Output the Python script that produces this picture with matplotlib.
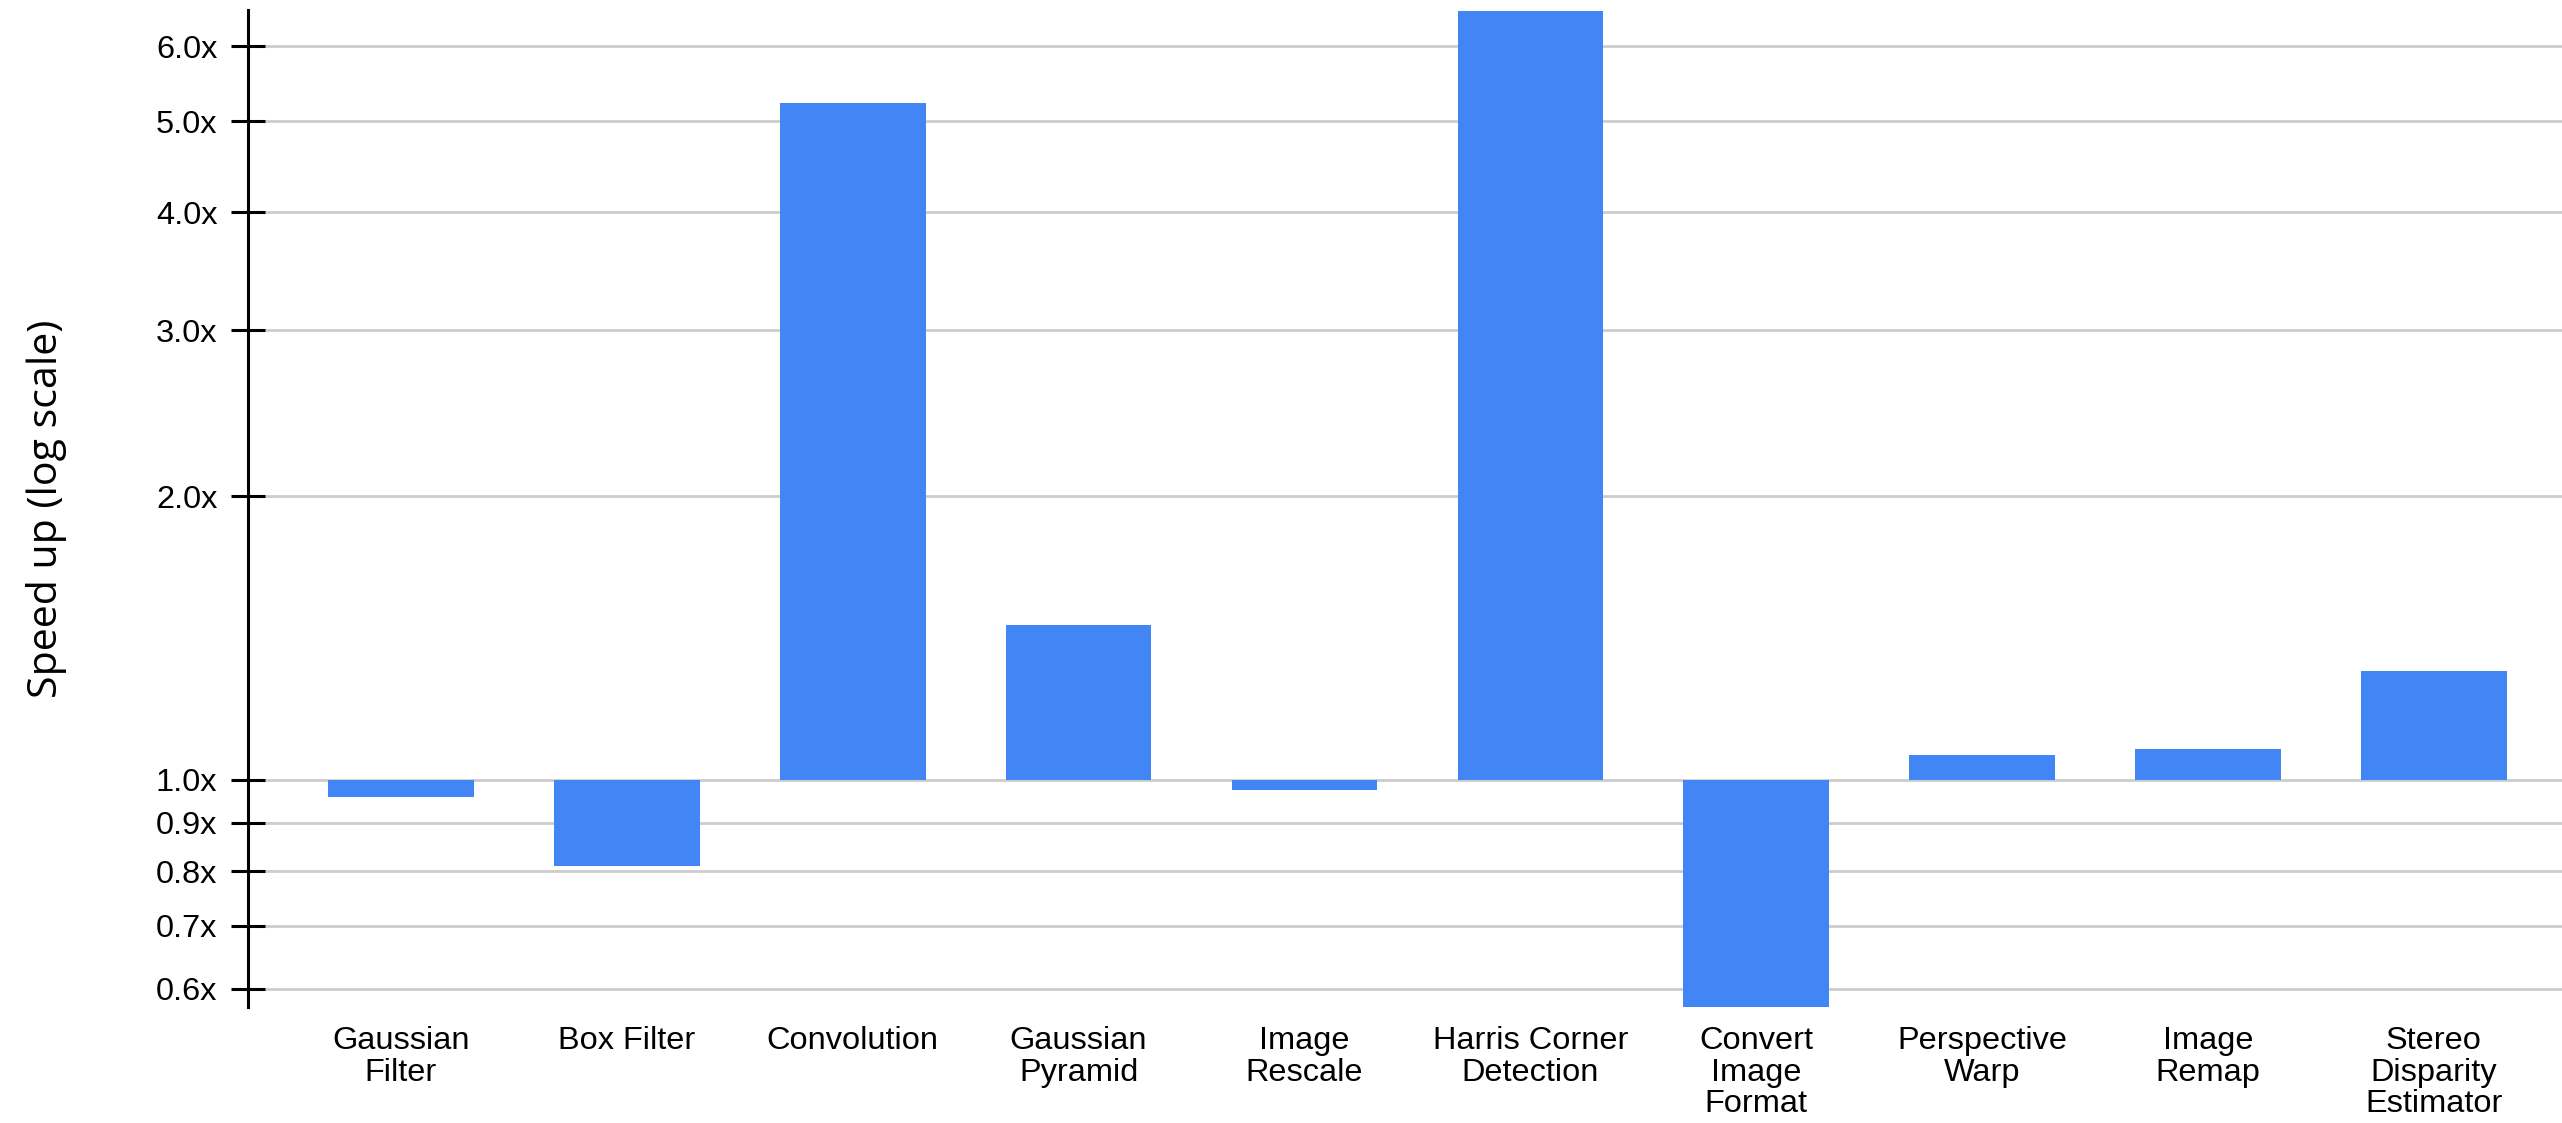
"""Speed-up per vision kernel, drawn on a log axis around a 1.0x baseline."""
import matplotlib.pyplot as plt
import matplotlib
import numpy as np
from matplotlib.ticker import FixedLocator, NullLocator, FuncFormatter

matplotlib.rcParams.update({
    "font.family": ["Liberation Sans", "DejaVu Sans"],
    "font.size": 11.7,
})

kernels = [
    "Gaussian\nFilter",
    "Box Filter",
    "Convolution",
    "Gaussian\nPyramid",
    "Image\nRescale",
    "Harris Corner\nDetection",
    "Convert\nImage\nFormat",
    "Perspective\nWarp",
    "Image\nRemap",
    "Stereo\nDisparity\nEstimator",
]
speedup = [0.96, 0.81, 5.22, 1.46, 0.976, 6.54, 0.574, 1.063, 1.078, 1.306]
yticks = [0.6, 0.7, 0.8, 0.9, 1.0, 2.0, 3.0, 4.0, 5.0, 6.0]

BAR_COLOR = "#4285F4"
GRID_COLOR = "#cccccc"

fig = plt.figure(figsize=(12.81, 5.615), dpi=200)
ax = fig.add_axes([0.0968, 0.1033, 0.9032, 0.8878])

x = np.arange(len(kernels))
vals = np.array(speedup)
ax.set_yscale("log")
# bars grow up or down from the 1.0x baseline
ax.bar(x, vals - 1.0, bottom=1.0, width=0.645, color=BAR_COLOR, zorder=3)

ax.set_xlim(-0.677, len(kernels) - 1 + 0.567)
ax.set_ylim(min(speedup), max(speedup) * 1.003)

ax.yaxis.set_major_locator(FixedLocator(yticks))
ax.yaxis.set_minor_locator(NullLocator())
ax.yaxis.set_major_formatter(FuncFormatter(lambda v, _: f"{v:.1f}x"))
ax.tick_params(axis="y", direction="inout", length=12, width=1.1,
               pad=5, labelsize=11.7, colors="black")
ax.set_xticks(x)
ax.set_xticklabels(kernels, fontsize=11.7, linespacing=1.06)
ax.tick_params(axis="x", length=0, pad=7)

ax.grid(axis="y", color=GRID_COLOR, linewidth=1.0, zorder=0)
ax.set_axisbelow(True)

for side in ("top", "right", "bottom"):
    ax.spines[side].set_visible(False)
ax.spines["left"].set_linewidth(1.1)
ax.spines["left"].set_color("black")

ax.set_ylabel("Speed up (log scale)", family=["Open Sans", "DejaVu Sans"],
              fontsize=14.8, labelpad=32)

fig.savefig("out.png", dpi=200)
